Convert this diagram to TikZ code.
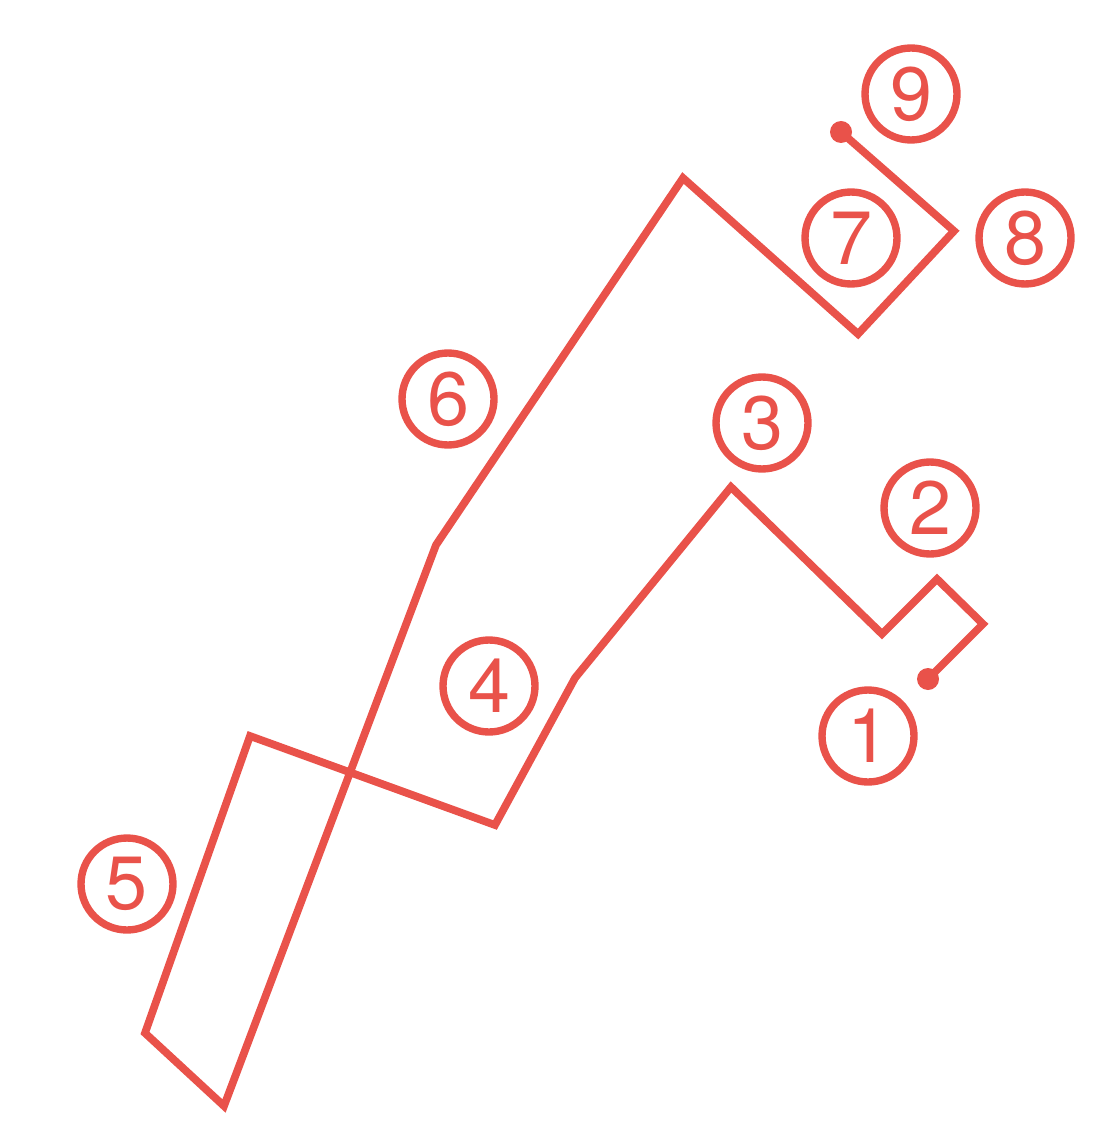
\documentclass[tikz,border=0pt]{standalone}
\usepackage{fontspec}
\newfontfamily\ringfont[Extension=.otf,UprightFont=texgyreheros-regular]{texgyreheros}
\usepackage{tikz}
\definecolor{tracered}{RGB}{233,82,74}

\begin{document}
\begin{tikzpicture}[x=0.02cm, y=-0.02cm,
    trace/.style={tracered,line width=4.4pt,line join=miter},
    numring/.style={circle,draw=tracered,line width=4.2pt,minimum size=1.84cm,
      inner sep=0pt,text=tracered,font=\ringfont\fontsize{43}{43}\selectfont}]
  \useasboundingbox (0,0) rectangle (1094,1128);
  % corners of the route
  \coordinate (s) at (928,679);
  \coordinate (a) at (983,624);
  \coordinate (b) at (937,579);
  \coordinate (c) at (882,634);
  \coordinate (d) at (731,487);
  \coordinate (e) at (575,678);
  \coordinate (f) at (495,825);
  \coordinate (g) at (250,736);
  \coordinate (h) at (145,1033);
  \coordinate (i) at (224,1106);
  \coordinate (j) at (436,545);
  \coordinate (k) at (683,178);
  \coordinate (l) at (858,334);
  \coordinate (m) at (954,231);
  \coordinate (t) at (841,132);
  \draw[trace] (s) -- (a) -- (b) -- (c) -- (d) -- (e) -- (f) -- (g) -- (h)
    -- (i) -- (j) -- (k) -- (l) -- (m) -- (t);
  \fill[tracered] (s) circle (11);
  \fill[tracered] (t) circle (11);
  % numbered rings
  \foreach \n/\px/\py in {1/868/736,2/930/508,3/762/423,4/489/686,5/127/884,
      6/448/399,7/851/238,8/1025/238,9/911/94}
    \node[numring] (r\n) at (\px,\py) {\n};
\end{tikzpicture}
\end{document}
